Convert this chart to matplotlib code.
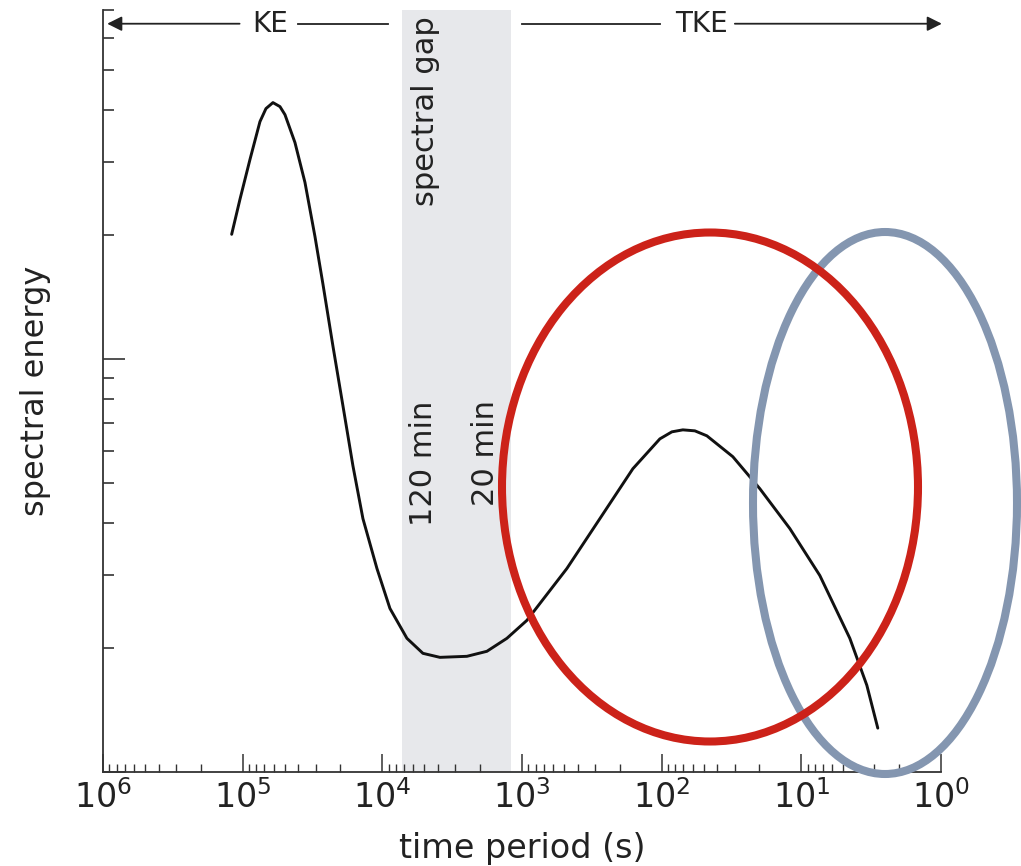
import matplotlib.pyplot as plt
from matplotlib.patches import Ellipse
from matplotlib.ticker import NullFormatter, LogLocator, FixedLocator

# curve: time period (s) and spectral energy (arbitrary units)
period_s = [1.199e5, 1.046e5, 8.865e4, 7.519e4, 6.812e4, 6.07e4, 5.408e4, 4.98e4,
            4.223e4, 3.581e4, 3.038e4, 2.662e4, 2.258e4, 1.914e4, 1.624e4, 1.377e4,
            1.093e4, 8822, 6666, 5122, 3870, 2480, 1784, 1283, 922.5, 477.1, 276.9,
            160.8, 103.0, 84.5, 70.5, 57.85, 47.47, 30.93, 19.82, 12.09, 7.373,
            4.495, 3.397, 2.835]
energy = [2.004, 2.435, 3.042, 3.757, 4.04, 4.177, 4.085, 3.906,
          3.343, 2.677, 1.982, 1.518, 1.075, 0.77, 0.5515, 0.4107,
          0.311, 0.2489, 0.2107, 0.1938, 0.1895, 0.1906, 0.196, 0.2107, 0.2329, 0.311, 0.4107,
          0.5424, 0.6407, 0.6663, 0.6737, 0.67, 0.6517, 0.58, 0.4853, 0.3886, 0.2991,
          0.2107, 0.1622, 0.1277]

gap_edges = [1200, 7200]  # 20 min .. 120 min
x_limits = [1e6, 1e0]
y_limits = [0.1, 7]
x_decades = [1e6, 1e5, 1e4, 1e3, 1e2, 1e1, 1e0]

ink = '#222222'

fig = plt.figure(figsize=(10.21, 8.66), dpi=100)
ax = fig.add_axes([103 / 1021, 94 / 866, 838 / 1021, 762 / 866])

ax.set_xscale('log')
ax.set_yscale('log')
ax.set_xlim(x_limits)
ax.set_ylim(y_limits)

# spectral gap band
ax.axvspan(gap_edges[0], gap_edges[1], color='#e7e8eb', lw=0, zorder=0)

ax.plot(period_s, energy, color='#111111', lw=2.1, zorder=3,
        solid_joinstyle='round', solid_capstyle='round')

# axes look
ax.spines[['top', 'right']].set_visible(False)
for s in ['left', 'bottom']:
    ax.spines[s].set_color('#333333')
    ax.spines[s].set_linewidth(1.3)

ax.xaxis.set_major_locator(FixedLocator(x_decades))
ax.xaxis.set_minor_locator(LogLocator(base=10, subs=range(2, 10), numticks=20))
ax.yaxis.set_minor_locator(LogLocator(base=10, subs=range(2, 10), numticks=20))
ax.xaxis.set_minor_formatter(NullFormatter())
ax.yaxis.set_major_formatter(NullFormatter())
ax.yaxis.set_minor_formatter(NullFormatter())

ax.tick_params(which='both', direction='in', top=False, right=False, color='#333333')
ax.tick_params(axis='x', which='major', length=13, width=1.1, labelsize=24, pad=6, labelcolor=ink)
ax.tick_params(axis='x', which='minor', length=6, width=1.0)
ax.tick_params(axis='y', which='major', length=16, width=1.2)
ax.tick_params(axis='y', which='minor', length=8, width=1.2)

ax.set_xlabel('time period (s)', fontsize=24, color=ink, labelpad=12)
ax.set_ylabel('spectral energy', fontsize=23, color=ink, labelpad=34)

# KE / TKE arrows along the top
ytop = 0.982
arrow = dict(arrowstyle='-|>', color=ink, lw=1.3, mutation_scale=22, shrinkA=0, shrinkB=0)
ax.annotate('', xy=(0.005, ytop), xytext=(0.163, ytop), xycoords='axes fraction', arrowprops=arrow)
ax.plot([0.233, 0.340], [ytop, ytop], transform=ax.transAxes, color=ink, lw=1.3, clip_on=False)
ax.text(0.200, ytop, 'KE', transform=ax.transAxes, ha='center', va='center', fontsize=20, color=ink)

ax.plot([0.500, 0.665], [ytop, ytop], transform=ax.transAxes, color=ink, lw=1.3, clip_on=False)
ax.annotate('', xy=(1.001, ytop), xytext=(0.754, ytop), xycoords='axes fraction', arrowprops=arrow,
            annotation_clip=False)
ax.text(0.714, ytop, 'TKE', transform=ax.transAxes, ha='center', va='center', fontsize=20, color=ink)

# labels inside the gap
ax.text(0.385, 0.867, 'spectral gap', transform=ax.transAxes, rotation=90,
        ha='center', va='center', fontsize=22, color=ink)
ax.text(0.383, 0.488, '120 min', transform=ax.transAxes, rotation=90,
        ha='center', va='top', fontsize=22, color=ink)
ax.text(0.456, 0.488, '20 min', transform=ax.transAxes, rotation=90,
        ha='center', va='top', fontsize=22, color=ink)

# hand-drawn highlight ellipses on top of the figure
fig.add_artist(Ellipse((885 / 1021, 1 - 503 / 866), 264 / 1021, 542 / 866,
                       transform=fig.transFigure, fill=False, ec='#8496b0', lw=5.8, zorder=10))
fig.add_artist(Ellipse((710 / 1021, 1 - 487 / 866), 416 / 1021, 509 / 866,
                       transform=fig.transFigure, fill=False, ec='#cc2219', lw=5.8, zorder=11))

fig.savefig('out.png', dpi=100)
